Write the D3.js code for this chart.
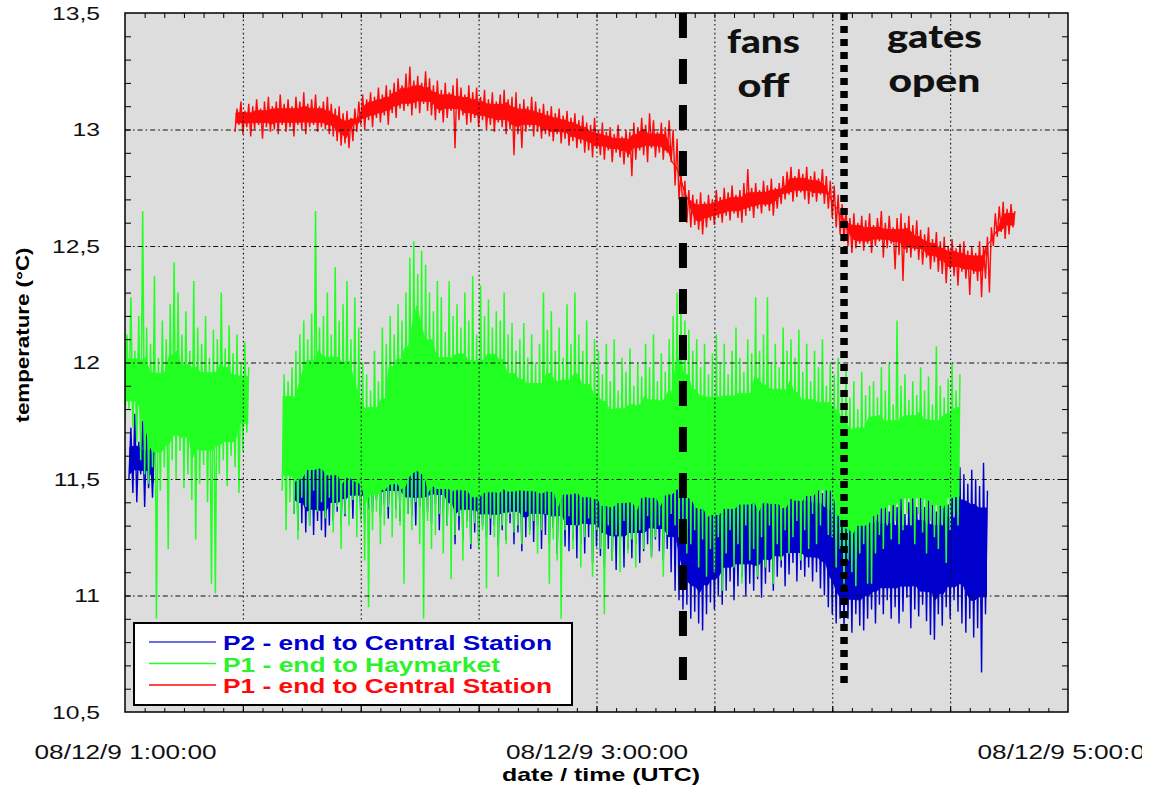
<!DOCTYPE html>
<html>
<head>
<meta charset="utf-8">
<script src="https://cdn.jsdelivr.net/npm/d3@7/dist/d3.min.js"></script>
<style>
  html, body { margin: 0; padding: 0; background: #fff; }
  svg { display: block; overflow: hidden; }
  text { font-family: "Liberation Sans", Arial, sans-serif; }
</style>
</head>
<body>
<svg id="chart" width="1142" height="793"></svg>
<script>
// Temperature logging, 9 Dec 2008, 01:00-05:00 UTC.
// Each series is stored as per-minute low / high readings (°C);
// "start" is the first minute after 01:00 UTC.

// P1 - end to Central Station (red), from minute 28
const redStart = 28;
const redHigh = [
  13.09,13.12,13.08,13.11,13.10,13.13,13.09,13.12,13.14,13.10,
  13.12,13.15,13.11,13.13,13.10,13.14,13.12,13.16,13.11,13.13,
  13.15,13.10,13.12,13.14,13.11,13.09,13.10,13.07,13.08,13.05,
  13.09,13.12,13.15,13.13,13.16,13.14,13.18,13.15,13.19,13.17,
  13.20,13.22,13.19,13.24,13.27,13.21,13.23,13.20,13.25,13.22,
  13.19,13.21,13.17,13.20,13.16,13.19,13.22,13.18,13.15,13.19,
  13.16,13.18,13.14,13.17,13.13,13.16,13.12,13.15,13.17,13.13,
  13.14,13.16,13.11,13.13,13.10,13.14,13.12,13.09,13.11,13.08,
  13.10,13.07,13.09,13.06,13.08,13.05,13.07,13.04,13.06,13.03,
  13.02,13.05,13.00,13.03,12.99,13.01,12.98,13.02,12.97,13.00,
  12.99,13.03,13.01,13.05,13.02,13.07,13.04,12.99,13.03,13.01,
  13.04,13.00,12.96,12.82,12.78,12.74,12.72,12.70,12.73,12.69,
  12.72,12.70,12.74,12.71,12.75,12.73,12.76,12.72,12.74,12.77,
  12.83,12.75,12.77,12.74,12.78,12.76,12.79,12.75,12.77,12.80,
  12.82,12.84,12.80,12.83,12.81,12.84,12.80,12.82,12.79,12.83,
  12.80,12.78,12.76,12.72,12.68,12.66,12.62,12.64,12.60,12.63,
  12.61,12.64,12.59,12.62,12.65,12.60,12.63,12.58,12.62,12.64,
  12.60,12.63,12.59,12.61,12.57,12.55,12.58,12.53,12.56,12.52,
  12.54,12.50,12.53,12.49,12.51,12.52,12.48,12.50,12.47,12.52,
  12.50,12.54,12.58,12.64,12.67,12.69,12.66,12.68,12.65
];
const redLow = [
  12.99,13.02,12.98,13.01,12.97,13.00,13.02,12.96,13.01,12.99,
  13.00,12.98,13.02,12.99,13.01,12.97,13.02,13.00,12.98,13.01,
  13.02,12.99,13.01,13.00,12.98,12.97,12.95,12.93,12.94,12.92,
  12.95,12.99,13.02,13.00,13.04,13.01,13.05,13.03,13.06,13.02,
  13.07,13.05,13.09,13.08,13.10,13.06,13.09,13.07,13.11,13.08,
  13.06,13.04,13.07,13.03,13.05,13.08,12.92,13.04,13.06,13.02,
  13.03,13.05,13.01,13.04,13.00,13.02,12.99,13.03,13.01,12.98,
  13.00,12.89,12.98,12.92,12.99,13.01,12.97,12.99,12.96,12.98,
  12.97,12.95,12.98,12.94,12.96,12.93,12.95,12.92,12.94,12.90,
  12.91,12.88,12.92,12.89,12.87,12.91,12.86,12.90,12.88,12.85,
  12.88,12.80,12.87,12.91,12.89,12.86,12.92,12.88,12.90,12.87,
  12.90,12.86,12.76,12.70,12.64,12.60,12.58,12.59,12.57,12.55,
  12.58,12.61,12.59,12.62,12.60,12.63,12.61,12.64,12.62,12.60,
  12.63,12.65,12.62,12.66,12.64,12.67,12.65,12.63,12.66,12.68,
  12.70,12.72,12.69,12.71,12.73,12.70,12.68,12.71,12.69,12.72,
  12.68,12.66,12.62,12.58,12.55,12.52,12.50,12.47,12.49,12.51,
  12.48,12.51,12.47,12.50,12.52,12.45,12.49,12.51,12.40,12.46,
  12.35,12.47,12.45,12.48,12.44,12.42,12.45,12.40,12.43,12.39,
  12.38,12.34,12.40,12.37,12.33,12.39,12.36,12.29,12.38,12.35,
  12.28,12.36,12.30,12.50,12.54,12.56,12.53,12.55,12.58
];

// P1 - end to Haymarket (green): two logged runs
const greenAStart = 0;
const greenAHigh = [
  12.12,12.28,12.05,12.20,12.65,12.15,12.08,12.37,12.02,12.18,
  12.10,12.25,12.43,12.30,12.12,12.22,12.05,12.35,12.15,12.08,
  12.20,12.02,12.14,12.10,12.30,12.06,12.16,12.04,12.12,12.00,
  12.09,11.98
];
const greenALow = [
  11.76,11.80,11.72,11.66,11.58,11.52,11.48,11.55,10.90,11.45,
  11.55,11.20,11.58,11.50,11.62,11.46,11.52,11.41,11.24,11.48,
  11.56,11.40,11.05,11.01,11.52,11.58,11.47,11.60,11.55,11.44,
  11.62,11.70
];
const greenBStart = 40;
const greenBHigh = [
  11.95,11.92,11.98,12.05,12.12,12.18,12.10,12.21,12.65,12.15,
  12.20,12.30,12.12,12.41,12.18,12.25,12.35,12.10,12.28,12.15,
  12.00,11.95,11.88,12.05,11.92,12.15,12.08,12.20,12.12,12.25,
  12.18,12.30,12.45,12.52,12.38,12.48,12.42,12.30,12.22,12.35,
  12.28,12.13,12.35,12.20,12.25,12.15,12.30,12.18,12.37,12.12,
  12.33,12.20,12.27,12.15,12.22,12.18,12.30,12.12,12.17,12.05,
  12.10,12.17,12.02,12.12,12.00,12.08,12.30,12.14,12.22,12.05,
  12.15,12.02,12.25,12.08,12.30,12.12,12.05,12.18,12.00,12.10,
  12.05,11.95,12.08,11.92,12.10,11.88,12.02,11.96,12.06,11.90,
  12.00,11.94,12.08,11.98,12.12,11.92,12.04,11.96,12.10,12.20,
  12.30,12.25,12.18,12.14,12.05,12.10,11.98,12.08,11.95,12.04,
  12.12,12.00,12.08,11.95,12.05,12.15,12.02,11.96,12.10,12.04,
  12.28,12.05,12.12,12.28,12.00,12.08,11.98,12.15,12.05,12.10,
  12.02,12.14,11.96,12.08,11.92,12.05,11.98,12.10,11.90,12.00,
  11.95,12.02,11.88,11.98,11.85,11.92,11.80,11.96,11.86,11.90,
  11.92,11.85,11.98,11.88,12.00,11.82,12.18,11.90,11.95,11.84,
  11.92,11.86,11.98,11.88,11.94,11.82,12.07,11.90,11.85,11.93,
  12.00,11.88,11.95
];
const greenBLow = [
  11.45,11.28,11.40,11.35,11.24,11.42,11.38,11.30,11.45,11.36,
  11.40,11.33,11.42,11.27,11.38,11.20,11.35,11.30,11.41,11.25,
  11.32,11.15,10.95,11.28,11.36,11.22,11.30,11.38,11.25,11.33,
  11.30,11.05,11.35,11.28,11.40,11.22,10.90,11.32,11.20,11.26,
  11.35,11.18,11.30,11.07,11.26,11.34,11.15,11.29,11.22,11.31,
  11.20,11.28,11.03,11.33,11.25,11.08,11.30,11.22,11.35,11.27,
  11.30,11.22,11.36,11.26,11.32,11.18,11.28,11.35,11.05,11.24,
  11.15,10.90,11.28,11.34,11.20,11.30,11.12,11.25,11.33,11.08,
  11.28,11.20,10.92,11.30,11.15,11.26,11.10,11.32,11.18,11.24,
  11.12,11.28,11.20,11.34,11.16,11.25,11.30,11.08,11.26,11.35,
  11.30,11.25,11.32,11.18,11.22,11.28,11.12,11.24,11.08,11.20,
  11.10,11.25,11.02,11.18,11.28,11.12,11.22,11.05,11.30,11.15,
  11.20,11.08,11.25,11.12,11.30,11.05,11.22,11.15,11.28,11.18,
  11.25,11.32,11.15,11.28,11.20,11.35,11.22,11.30,11.38,11.26,
  11.25,11.12,11.20,11.05,11.15,11.10,11.04,11.18,11.22,11.05,
  11.05,11.18,11.26,11.20,11.30,11.24,11.32,11.22,11.28,11.35,
  11.30,11.22,11.35,11.27,11.18,11.32,11.25,11.20,11.30,11.14,
  11.28,11.35,11.30
];

// P2 - end to Central Station (blue): two logged runs
const blueAStart = 1;
const blueAHigh = [11.72,11.78,11.66,11.75,11.70,11.64,11.68];
const blueALow  = [11.50,11.44,11.40,11.52,11.38,11.46,11.42];
const blueBStart = 43;
const blueBHigh = [
  11.85,11.78,11.82,11.70,11.76,11.68,11.74,11.72,11.65,11.70,
  11.68,11.72,11.64,11.70,11.66,11.74,11.62,11.69,11.65,11.71,
  11.66,11.72,11.68,11.75,11.70,11.64,11.73,11.80,11.69,11.74,
  11.70,11.76,11.68,11.72,11.95,12.02,11.74,11.80,11.70,11.76,
  11.72,11.80,11.68,11.75,11.85,11.70,11.78,11.66,11.74,12.00,
  11.70,11.78,11.65,11.74,11.82,11.68,11.76,11.70,11.88,11.72,
  11.75,11.68,11.90,11.72,11.78,11.66,11.84,11.70,11.76,11.92,
  11.70,11.78,11.86,11.72,11.68,11.80,11.74,11.66,11.72,11.65,
  11.70,11.62,11.68,11.60,11.72,11.64,11.66,11.58,11.70,11.62,
  11.66,11.60,11.68,11.62,11.58,11.65,11.70,11.62,11.64,11.56,
  11.60,11.55,11.62,11.58,11.52,11.60,11.56,11.50,11.58,11.54,
  11.52,11.58,11.50,11.55,11.48,11.56,11.50,11.54,11.58,11.52,
  11.55,11.50,11.60,11.48,11.54,11.52,11.46,11.56,11.50,11.53,
  11.50,11.45,11.52,11.48,11.44,11.50,11.46,11.42,11.48,11.40,
  11.44,11.40,11.46,11.38,11.42,11.36,11.45,11.40,11.38,11.43,
  11.40,11.36,11.44,11.38,11.42,11.35,11.40,11.46,11.38,11.42,
  11.38,11.44,11.40,11.36,11.42,11.46,11.39,11.48,11.50,11.55,
  11.52,11.48,11.54,11.50,11.47,11.57,11.45
];
const blueBLow = [
  11.35,11.28,11.31,11.27,11.30,11.26,11.32,11.28,11.25,11.30,
  11.32,11.36,11.30,11.34,11.38,11.33,11.40,11.35,11.31,11.37,
  11.36,11.41,11.34,11.39,11.33,11.42,11.37,11.32,11.38,11.35,
  11.34,11.30,11.38,11.33,11.36,11.31,11.39,11.28,11.35,11.30,
  11.30,11.22,11.28,11.24,11.32,11.20,11.27,11.23,11.30,11.25,
  11.26,11.30,11.21,11.28,11.24,11.31,11.22,11.27,11.19,11.25,
  11.28,11.23,11.30,11.20,11.26,11.22,11.29,11.18,11.24,11.21,
  11.19,11.24,11.16,11.22,11.18,11.25,11.14,11.21,11.17,11.12,
  11.20,11.15,11.11,11.18,11.12,11.20,11.16,11.22,11.14,11.19,
  11.22,11.17,11.24,11.19,11.15,11.20,11.10,11.02,10.98,10.94,
  10.96,10.90,10.93,10.88,10.85,10.92,10.97,10.94,11.00,10.96,
  11.02,11.06,10.98,11.04,11.08,11.00,11.05,11.02,11.07,10.99,
  11.05,11.10,11.02,11.08,11.12,11.04,11.09,11.14,11.06,11.11,
  11.08,11.12,11.06,11.10,11.03,11.00,10.95,10.92,10.88,10.90,
  10.86,10.90,10.84,10.92,10.87,10.85,10.90,10.94,10.88,10.96,
  10.92,10.98,10.90,10.95,10.88,10.93,10.99,10.86,10.94,10.91,
  10.96,10.89,10.83,10.81,10.92,10.87,10.95,10.90,10.98,10.93,
  10.88,10.84,10.90,10.82,10.86,10.67,10.92
];

// Events (minutes after 01:00 UTC)
const eventMinutes = { fansOff: 142, gatesOpen: 183 };

// Axis values
const yTickLabels = [10.5, 11, 11.5, 12, 12.5, 13, 13.5];
const yGridValues = [11, 11.5, 12, 12.5, 13];
const xLabelMinutes = [0, 120, 240];

// ---- layout ----
const M = { left: 125, right: 1068, top: 13, bottom: 712 };
const t0 = Date.UTC(2008, 11, 9, 1, 0, 0);
const at = m => new Date(t0 + m * 60000);

const x = d3.scaleUtc().domain([at(0), at(240)]).range([M.left, M.right]);
const y = d3.scaleLinear().domain([10.5, 13.5]).range([M.bottom, M.top]);

const svg = d3.select("#chart");
const plotH = M.bottom - M.top, plotW = M.right - M.left;

function stretchTo(sel, width) {
  sel.attr("textLength", width).attr("lengthAdjust", "spacingAndGlyphs");
}
function stretchBy(sel, k) {
  sel.each(function () {
    const w = this.getComputedTextLength();
    this.setAttribute("textLength", w * k);
    this.setAttribute("lengthAdjust", "spacingAndGlyphs");
  });
}

// plot background
svg.append("rect")
  .attr("x", M.left).attr("y", M.top)
  .attr("width", plotW).attr("height", plotH)
  .attr("fill", "#dcdddc");

svg.append("clipPath").attr("id", "plotClip")
  .append("rect").attr("x", M.left).attr("y", M.top)
  .attr("width", plotW).attr("height", plotH);

// ---- series ----
const series = [
  { label: "P2 - end to Central Station", color: "#0000cc", legendColor: "#3b3be0", width: 1.4,
    runs: [[blueAStart, blueALow, blueAHigh], [blueBStart, blueBLow, blueBHigh]] },
  { label: "P1 - end to Haymarket", color: "#22ff22", legendColor: "#22ff22", width: 1.5,
    runs: [[greenAStart, greenALow, greenAHigh], [greenBStart, greenBLow, greenBHigh]] },
  { label: "P1 - end to Central Station", color: "#ff0a0a", legendColor: "#ff0a0a", width: 1.4,
    runs: [[redStart, redLow, redHigh]] }
];

// readings as an up/down trace: low then high within each minute
function runPoints(start, low, high) {
  const pts = [];
  const n = Math.min(low.length, high.length);
  for (let i = 0; i < n; i++) {
    pts.push([start + i, low[i]]);
    pts.push([start + i + 0.5, high[i]]);
  }
  return pts;
}

// dense core of the trace: the range shared by a 5-minute window,
// narrowed around its middle where most readings fall
function runCore(start, low, high, half = 2, keep = 0.72) {
  const n = Math.min(low.length, high.length);
  const pts = [];
  for (let i = 0; i < n; i++) {
    const a = Math.max(0, i - half), b = Math.min(n - 1, i + half);
    const lo = d3.max(low.slice(a, b + 1));
    const hi = d3.min(high.slice(a, b + 1));
    const mid = (lo + hi) / 2, r = Math.max(0, (hi - lo) / 2) * keep;
    pts.push([start + i + 0.25, mid - r, mid + r]);
  }
  return pts;
}

const line = d3.line()
  .x(d => x(at(d[0])))
  .y(d => y(d[1]));
const area = d3.area()
  .x(d => x(at(d[0])))
  .y0(d => y(d[1]))
  .y1(d => y(d[2]));

const dataG = svg.append("g").attr("clip-path", "url(#plotClip)");
series.forEach(s => {
  s.runs.forEach(r => {
    dataG.append("path")
      .datum(runCore(r[0], r[1], r[2]))
      .attr("d", area)
      .attr("fill", s.color)
      .attr("stroke", s.color)
      .attr("stroke-width", 1);
    dataG.append("path")
      .datum(runPoints(r[0], r[1], r[2]))
      .attr("d", line)
      .attr("fill", "none")
      .attr("stroke", s.color)
      .attr("stroke-width", s.width)
      .attr("stroke-linejoin", "miter");
  });
});

// ---- grid ----
const gridTimes = d3.utcMinute.every(30).range(at(30), at(240));
svg.append("g")
  .attr("transform", `translate(0,${M.bottom})`)
  .call(d3.axisBottom(x).tickValues(gridTimes).tickSize(-plotH).tickFormat(""))
  .call(g => g.select(".domain").remove())
  .selectAll("line")
  .attr("stroke", "#111").attr("stroke-width", 1.1)
  .attr("stroke-dasharray", "1.6,2.8");

svg.append("g")
  .attr("transform", `translate(${M.left},0)`)
  .call(d3.axisLeft(y).tickValues(yGridValues).tickSize(-plotW).tickFormat(""))
  .call(g => g.select(".domain").remove())
  .selectAll("line")
  .attr("stroke", "#111").attr("stroke-width", 1.1)
  .attr("stroke-dasharray", "5,3,1.6,3");

// ---- tick marks (inward, all four sides) ----
const minorTimes = d3.utcMinute.every(5).range(at(5), at(240));
const minorY = d3.range(10.6, 13.45, 0.1);

function tickStyle(g) {
  g.select(".domain").remove();
  g.selectAll("line").attr("stroke", "#000").attr("stroke-width", 1);
}
svg.append("g").attr("transform", `translate(0,${M.bottom})`)
  .call(d3.axisBottom(x).tickValues(minorTimes).tickSize(-4).tickFormat(""))
  .call(tickStyle);
svg.append("g").attr("transform", `translate(0,${M.bottom})`)
  .call(d3.axisBottom(x).tickValues(gridTimes).tickSize(-6).tickFormat(""))
  .call(tickStyle);
svg.append("g").attr("transform", `translate(0,${M.top})`)
  .call(d3.axisTop(x).tickValues(minorTimes).tickSize(-5).tickFormat(""))
  .call(tickStyle);
svg.append("g").attr("transform", `translate(${M.left},0)`)
  .call(d3.axisLeft(y).tickValues(minorY).tickSize(-6).tickFormat(""))
  .call(tickStyle);
svg.append("g").attr("transform", `translate(${M.right},0)`)
  .call(d3.axisRight(y).tickValues(minorY).tickSize(-6).tickFormat(""))
  .call(tickStyle);

// ---- event markers ----
const fx = x(at(eventMinutes.fansOff));
const gx = x(at(eventMinutes.gatesOpen));
svg.append("line")
  .attr("x1", fx).attr("x2", fx).attr("y1", M.top).attr("y2", 680)
  .attr("stroke", "#000").attr("stroke-width", 8)
  .attr("stroke-dasharray", "25,21");
svg.append("line")
  .attr("x1", gx).attr("x2", gx).attr("y1", M.top).attr("y2", 688)
  .attr("stroke", "#000").attr("stroke-width", 7.5)
  .attr("stroke-dasharray", "7,6");

// annotation text
const notes = [
  { minute: 162.5, lines: ["fans", "off"], widths: [73, 52], base: [53, 97] },
  { minute: 206, lines: ["gates", "open"], widths: [95, 92], base: [48, 92] }
];
notes.forEach(n => {
  n.lines.forEach((txt, i) => {
    svg.append("text")
      .attr("x", x(at(n.minute))).attr("y", n.base[i])
      .attr("text-anchor", "middle")
      .style("font-family", "Lato, 'Open Sans', sans-serif")
      .style("font-weight", "900")
      .style("font-size", "32px")
      .attr("fill", "#111")
      .text(txt)
      .call(stretchTo, n.widths[i]);
  });
});

// ---- plot frame ----
svg.append("rect")
  .attr("x", M.left).attr("y", M.top)
  .attr("width", plotW).attr("height", plotH)
  .attr("fill", "none").attr("stroke", "#000").attr("stroke-width", 1.5);

// ---- axis labels ----
const fmtY = v => (Number.isInteger(v) ? String(v) : String(v).replace(".", ","));
svg.append("g").attr("transform", `translate(${M.left},0)`)
  .call(d3.axisLeft(y).tickValues(yTickLabels).tickSize(0).tickPadding(25).tickFormat(fmtY))
  .call(g => g.select(".domain").remove())
  .selectAll("text")
  .style("font-family", "'Liberation Sans', Arial, sans-serif")
  .style("font-size", "19px")
  .attr("fill", "#111")
  .call(stretchBy, 1.3);

const fmtX = d3.utcFormat("%y/%m/%-d %-H:%M:%S");
svg.append("g").attr("transform", `translate(0,${M.bottom})`)
  .call(d3.axisBottom(x).tickValues(xLabelMinutes.map(at)).tickSize(0).tickFormat(fmtX))
  .call(g => g.select(".domain").remove())
  .selectAll("text")
  .attr("y", 47).attr("dy", 0)
  .style("font-family", "'Liberation Sans', Arial, sans-serif")
  .style("font-size", "20px")
  .attr("fill", "#111")
  .call(stretchTo, 182);

svg.append("text")
  .attr("x", 601).attr("y", 781)
  .attr("text-anchor", "middle")
  .style("font-weight", "bold").style("font-size", "19px")
  .attr("fill", "#000")
  .text("date / time (UTC)")
  .call(stretchTo, 198);

svg.append("text")
  .attr("transform", "translate(29,335) rotate(-90)")
  .attr("text-anchor", "middle")
  .style("font-weight", "bold").style("font-size", "19px")
  .attr("fill", "#000")
  .text("temperature (°C)")
  .call(stretchTo, 175);

// ---- legend ----
const lg = svg.append("g").attr("transform", "translate(134,623)");
lg.append("rect").attr("width", 438).attr("height", 82)
  .attr("fill", "#fff").attr("stroke", "#000").attr("stroke-width", 2);
const legendWidths = [329, 277, 329];
series.forEach((s, i) => {
  const cy = 19 + i * 21.5;
  lg.append("line").attr("x1", 15).attr("x2", 82).attr("y1", cy).attr("y2", cy)
    .attr("stroke", s.legendColor).attr("stroke-width", 1.6);
  lg.append("text").attr("x", 89).attr("y", cy + 8)
    .style("font-weight", "bold").style("font-size", "19.5px")
    .attr("fill", s.color === "#22ff22" ? "#2cf22c" : s.color)
    .text(s.label)
    .call(stretchTo, legendWidths[i]);
});
</script>
</body>
</html>
